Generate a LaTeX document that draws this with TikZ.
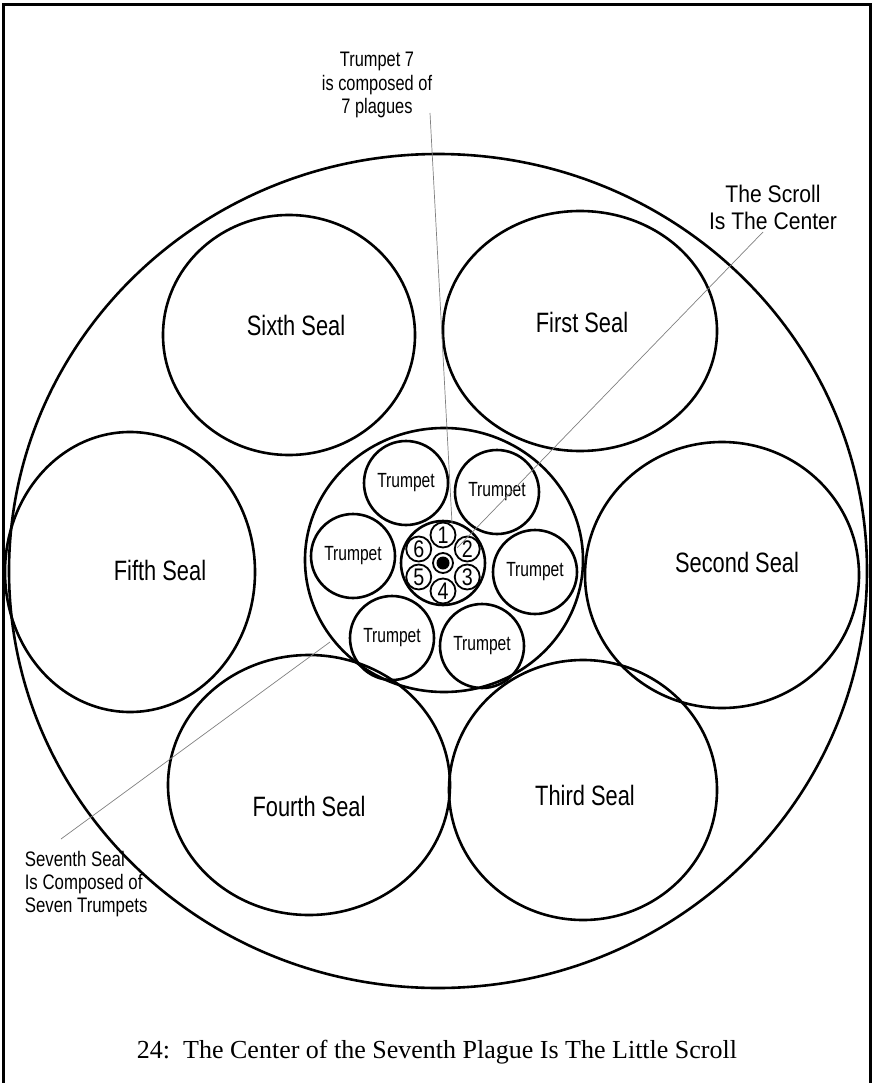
\documentclass[tikz,border=0pt]{standalone}
\usepackage{fontspec}
\setmainfont{Liberation Sans}
\newfontfamily\capfont{Liberation Serif}

\begin{document}
\begin{tikzpicture}[x=1pt,y=-1pt,
  ring/.style={line width=2.6pt},
  plague/.style={circle,draw,line width=1.8pt,minimum size=25pt,inner sep=0pt},
  seallabel/.style={font=\fontsize{28}{30}\selectfont,xscale=0.78},
  trumpetlabel/.style={font=\fontsize{20.5}{22}\selectfont,xscale=0.76},
  leader/.style={gray,line width=0.7pt}]
  \useasboundingbox (0,0) rectangle (874,1083);
  \draw[line width=3pt] (3.5,1095) -- (3.5,4.5) -- (870,4.5) -- (870,1095);
  % the seven seals
  \draw[ring] (438,571) ellipse[x radius=429pt,y radius=417pt];
  \draw[ring] (289,335) ellipse[x radius=126pt,y radius=120pt];
  \draw[ring] (580,331) ellipse[x radius=137pt,y radius=120pt];
  \draw[ring] (130,572) ellipse[x radius=125pt,y radius=140pt];
  \draw[ring] (722,575) ellipse[x radius=137pt,y radius=133pt];
  \draw[ring] (309,785) ellipse[x radius=141pt,y radius=130pt];
  \draw[ring] (583,790) ellipse[x radius=134pt,y radius=130pt];
  \draw[ring] (444,560) ellipse[x radius=139pt,y radius=132pt];
  \node[seallabel] (sixth) at (296,325) {Sixth Seal};
  \node[seallabel] (first) at (582,322) {First Seal};
  \node[seallabel] (fifth) at (160,570) {Fifth Seal};
  \node[seallabel] (second) at (737,562) {Second Seal};
  \node[seallabel] (fourth) at (309,806) {Fourth Seal};
  \node[seallabel] (third) at (585,795) {Third Seal};
  % trumpets of the seventh seal
  \foreach \x/\y [count=\i] in {406/483,497/492,353/556,535/572,392/638,482/646}{
    \draw[ring] (\x,\y) circle[radius=42pt];
    \node[trumpetlabel] (trumpet\i) at (\x,\y) {Trumpet};
  }
  % plagues of trumpet 7
  \coordinate (core) at (443,563);
  \draw[ring] (core) circle[radius=42pt];
  \foreach \n/\a in {1/-90,2/-30,3/30,4/90,5/150,6/210}{
    \node[plague] (plague\n) at ([shift={(\a:28)}]core) {};
    \node[font=\fontsize{24}{24}\selectfont,xscale=0.82] at (plague\n) {\n};
  }
  \draw[line width=1.8pt] (core) circle[radius=10pt];
  \fill (core) circle[radius=6.5pt];
  % notes
  \node[align=center,font=\fontsize{21}{23.5}\selectfont,xscale=0.78] (t7note) at (377,85) {Trumpet 7\\is composed of\\7 plagues};
  \node[align=center,font=\fontsize{24}{27}\selectfont,xscale=0.88] (scrollnote) at (773,207) {The Scroll\\Is The Center};
  \node[align=left,anchor=west,font=\fontsize{21}{23}\selectfont,xscale=0.8] (sealnote) at (22,884) {Seventh Seal\\Is Composed of\\Seven Trumpets};
  \coordinate (t7start) at (430,113);
  \coordinate (t7end) at (452,523);
  \coordinate (scrollstart) at (763,232);
  \coordinate (scrollend) at (457,548);
  \coordinate (sealstart) at (61,839);
  \coordinate (sealend) at (330,642);
  \draw[leader] (t7start) -- (t7end);
  \draw[leader] (scrollstart) -- (scrollend);
  \draw[leader] (sealstart) -- (sealend);
  \node[font=\capfont\fontsize{26}{28}\selectfont] (caption) at (437,1052) {24:\ \ The Center of the Seventh Plague Is The Little Scroll};
\end{tikzpicture}
\end{document}
